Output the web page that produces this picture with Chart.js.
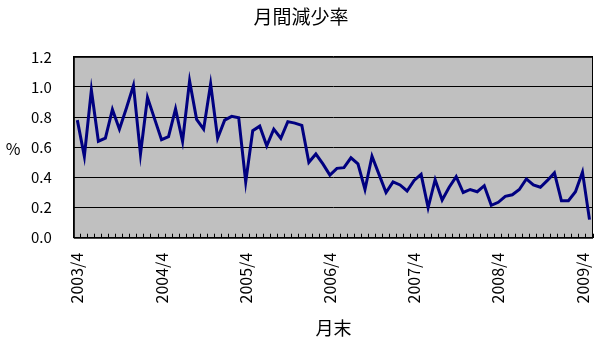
<!DOCTYPE html>
<html>
<head>
<meta charset="utf-8">
<script src="https://cdn.jsdelivr.net/npm/chart.js@4/dist/chart.umd.min.js"></script>
<style>
  body { margin: 0; background: #fff; }
  #wrap { width: 602px; height: 347px; }
</style>
</head>
<body>
<div id="wrap"><canvas id="rateChart" width="602" height="347"></canvas></div>
<script>
// monthly data, 2003/4 .. 2009/5
const startYear = 2003;
const startMonth = 4;
const rates = [
  0.78, 0.54, 0.98, 0.64, 0.66, 0.85, 0.72, 0.86, 1.01, 0.555, 0.93, 0.79,
  0.65, 0.67, 0.855, 0.64, 1.04, 0.785, 0.72, 1.02, 0.66, 0.78, 0.805, 0.795,
  0.37, 0.71, 0.74, 0.61, 0.72, 0.66, 0.77, 0.76, 0.745, 0.50, 0.555, 0.49,
  0.415, 0.46, 0.465, 0.53, 0.49, 0.32, 0.54, 0.42, 0.30, 0.37, 0.35, 0.31,
  0.38, 0.42, 0.20, 0.385, 0.25, 0.335, 0.405, 0.30, 0.32, 0.305, 0.345, 0.215,
  0.235, 0.275, 0.285, 0.32, 0.39, 0.35, 0.335, 0.38, 0.43, 0.245, 0.245, 0.305,
  0.435, 0.12
];
const months = rates.map((_, i) => {
  const m = startMonth - 1 + i;
  return (startYear + Math.floor(m / 12)) + "/" + ((m % 12) + 1);
});

const font = "'Noto Sans CJK JP', 'Noto Sans', sans-serif";

const plotFrame = {
  id: "plotFrame",
  beforeDraw(chart) {
    const { ctx, chartArea: a } = chart;
    ctx.save();
    ctx.fillStyle = "#c0c0c0";
    ctx.fillRect(a.left, a.top, a.right - a.left, a.bottom - a.top);
    ctx.restore();
  },
  afterDraw(chart) {
    const { ctx, chartArea: a } = chart;
    ctx.save();
    ctx.strokeStyle = "#000";
    ctx.lineWidth = 1;
    ctx.strokeRect(a.left + 0.5, a.top + 0.5, a.right - a.left - 1, a.bottom - a.top);
    // y axis title, horizontal
    ctx.fillStyle = "#000";
    ctx.font = "16px " + font;
    ctx.textAlign = "center";
    ctx.textBaseline = "middle";
    ctx.fillText("%", 13, 149);
    ctx.restore();
  },
};

new Chart(document.getElementById("rateChart"), {
  type: "line",
  data: {
    labels: months,
    datasets: [
      {
        label: "月間減少率",
        data: rates,
        borderColor: "#000080",
        borderWidth: 3,
        pointRadius: 0,
        tension: 0,
      },
    ],
  },
  options: {
    responsive: false,
    animation: false,
    layout: { padding: { left: 9, right: 9, top: 0, bottom: 8 } },
    plugins: {
      legend: { display: false },
      tooltip: { enabled: false },
      title: {
        display: true,
        text: "月間減少率",
        color: "#000",
        font: { family: font, size: 19, weight: "normal" },
        padding: { top: 5, bottom: 29 },
      },
    },
    scales: {
      x: {
        offset: true,
        afterFit: (scale) => {
          scale.paddingLeft = 0;
          scale.paddingRight = 0;
        },
        grid: {
          offset: true,
          drawOnChartArea: false,
          drawTicks: true,
          tickLength: -4,
          color: "#000",
        },
        border: { color: "#000" },
        ticks: {
          autoSkip: false,
          maxRotation: 90,
          minRotation: 90,
          padding: 19,
          color: "#000",
          font: { family: font, size: 16, lineHeight: "0px" },
          callback: (v, i) => (i % 12 === 0 ? months[i] : ""),
        },
        title: {
          display: true,
          text: "月末",
          color: "#000",
          font: { family: font, size: 18 },
          padding: { top: -5, bottom: 0 },
        },
      },
      y: {
        min: 0,
        max: 1.2,
        grid: { color: "#000", drawTicks: false },
        border: { color: "#000" },
        ticks: {
          stepSize: 0.2,
          padding: 22,
          color: "#000",
          font: { family: font, size: 15 },
          callback: (v) => v.toFixed(1),
        },
      },
    },
  },
  plugins: [plotFrame],
});
</script>
</body>
</html>
